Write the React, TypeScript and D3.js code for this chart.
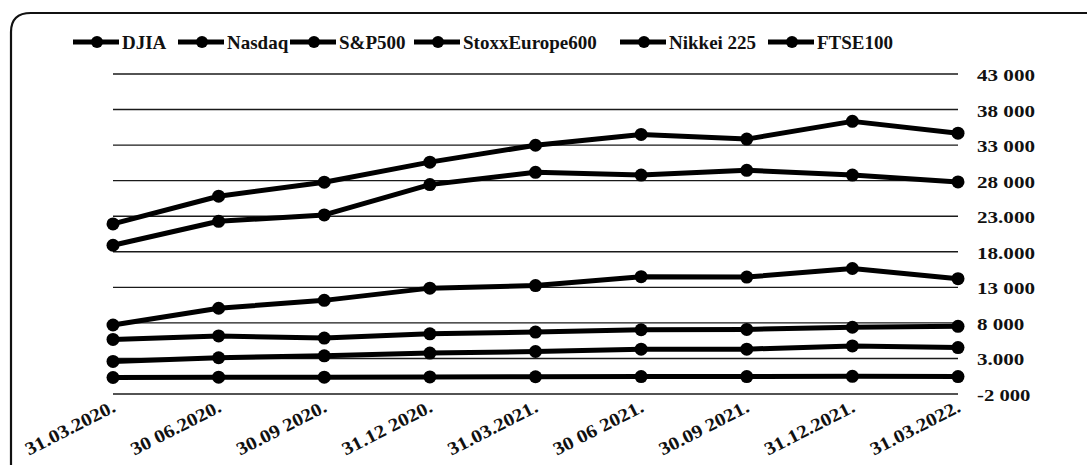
import React from "react";
import * as d3 from "d3";

const categories = [
  "31.03.2020.", "30 06.2020.", "30.09 2020.", "31.12 2020.", "31.03.2021.",
  "30 06 2021.", "30.09 2021.", "31.12.2021.", "31.03.2022.",
];

const djia = [21917, 25813, 27782, 30606, 32982, 34503, 33844, 36338, 34678];
const nasdaq = [7700, 10059, 11168, 12888, 13247, 14504, 14449, 15645, 14221];
const sp500 = [2585, 3100, 3363, 3756, 3973, 4298, 4308, 4766, 4530];
const stoxx600 = [320, 361, 361, 399, 429, 453, 455, 488, 456];
const nikkei225 = [18917, 22288, 23185, 27444, 29179, 28792, 29453, 28792, 27821];
const ftse100 = [5672, 6170, 5866, 6461, 6714, 7037, 7086, 7385, 7516];

const seriesNames = ["DJIA", "Nasdaq", "S&P500", "StoxxEurope600", "Nikkei 225", "FTSE100"];
const seriesValues = [djia, nasdaq, sp500, stoxx600, nikkei225, ftse100];

const tickValues = [43000, 38000, 33000, 28000, 23000, 18000, 13000, 8000, 3000, -2000];
const tickLabels = ["43 000", "38 000", "33 000", "28 000", "23.000", "18.000", "13 000", "8 000", "3.000", "-2 000"];

// layout
const W = 1087;
const H = 465;
const legendX = [73, 178, 290, 414, 620, 768];
const FONT = "'Liberation Serif', 'Times New Roman', serif";

function tickWidth(s: string) {
  let w = 0;
  for (const c of s) {
    if (c >= "0" && c <= "9") w += 10.6;
    else if (c === "-") w += 6;
    else w += 5;
  }
  return w;
}
function xLabelWidth(s: string) {
  let w = 0;
  for (const c of s) {
    if (c >= "0" && c <= "9") w += 10.4;
    else w += 5.2;
  }
  return w;
}

export default function App() {
  const x = d3.scalePoint<string>().domain(categories).range([113, 958]);
  const y = d3.scaleLinear().domain([-2000, 43000]).range([394, 74]);
  const line = d3
    .line<number>()
    .x((_, i) => x(categories[i]) as number)
    .y((d) => y(d));

  return (
    <svg
      width={W}
      height={H}
      style={{ position: "absolute", left: 0, top: 0, background: "#fff" }}
      fontFamily={FONT}
    >
      <rect x={0} y={0} width={W} height={H} fill="#fff" />
      {/* frame */}
      <path
        d={`M 11 470 L 11 32 Q 11 13 31 13 L ${W + 10} 13`}
        fill="none"
        stroke="#111"
        strokeWidth={2.2}
      />
      {/* gridlines */}
      {tickValues.map((t) => (
        <line
          key={t}
          x1={113}
          x2={958}
          y1={y(t)}
          y2={y(t)}
          stroke="#1a1a1a"
          strokeWidth={1.4}
        />
      ))}
      {/* y tick labels */}
      {tickValues.map((t, i) => (
        <text
          key={"l" + t}
          x={977}
          y={y(t) + 7}
          fontSize={17.5}
          fontWeight={700}
          fill="#111"
          textLength={tickWidth(tickLabels[i])}
          lengthAdjust="spacingAndGlyphs"
        >
          {tickLabels[i]}
        </text>
      ))}
      {/* series */}
      {seriesValues.map((vals, si) => (
        <g key={seriesNames[si]}>
          <path d={line(vals) || ""} fill="none" stroke="#000" strokeWidth={5} strokeLinejoin="round" />
          {vals.map((v, i) => (
            <circle key={i} cx={x(categories[i]) as number} cy={y(v)} r={6.5} fill="#000" />
          ))}
        </g>
      ))}
      {/* x labels */}
      {categories.map((c) => (
        <text
          key={c}
          transform={`translate(${(x(c) as number) + 4},${411}) rotate(-27)`}
          textAnchor="end"
          fontSize={18.5}
          fontWeight={700}
          fill="#111"
          textLength={xLabelWidth(c)}
          lengthAdjust="spacingAndGlyphs"
        >
          {c}
        </text>
      ))}
      {/* legend */}
      {seriesNames.map((n, i) => (
        <g key={"lg" + n} transform={`translate(${legendX[i]},42)`}>
          <line x1={0} x2={46} y1={0} y2={0} stroke="#000" strokeWidth={5} />
          <circle cx={24} cy={0} r={6} fill="#000" />
          <text x={49} y={6.5} fontSize={19} fontWeight={700} fill="#111">
            {n}
          </text>
        </g>
      ))}
    </svg>
  );
}
